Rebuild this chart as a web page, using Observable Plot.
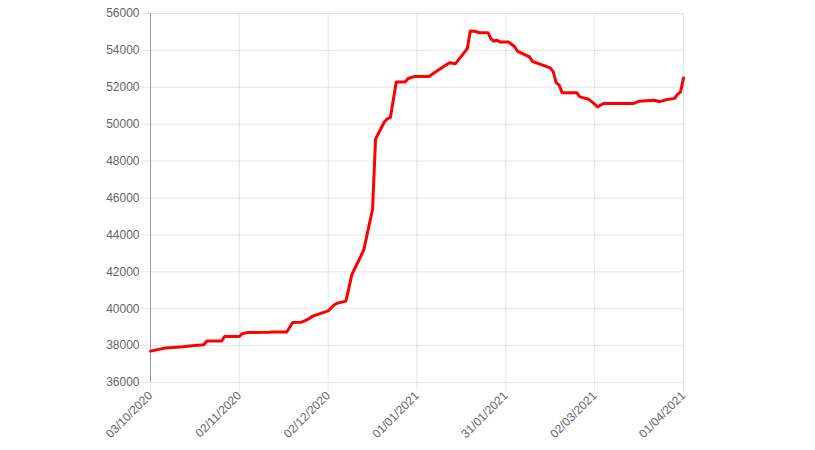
<!DOCTYPE html>
<html><head><meta charset="utf-8">
<script src="https://cdn.jsdelivr.net/npm/d3@7"></script>
<script src="https://cdn.jsdelivr.net/npm/@observablehq/plot@0.6"></script>
<style>body{margin:0;background:#fff;} svg{display:block;}</style>
</head><body><div id="chart"></div>
<script>
const dates = ["2020-10-03","2020-10-08","2020-10-14","2020-10-17","2020-10-21","2020-10-22","2020-10-27","2020-10-28",
"2020-11-02","2020-11-03","2020-11-05","2020-11-12","2020-11-13","2020-11-18","2020-11-20","2020-11-23","2020-11-25","2020-11-27",
"2020-12-02","2020-12-04","2020-12-05","2020-12-08","2020-12-10","2020-12-11","2020-12-14","2020-12-17","2020-12-18","2020-12-21",
"2020-12-22","2020-12-23","2020-12-25","2020-12-28","2020-12-29","2020-12-31","2021-01-05","2021-01-11","2021-01-12","2021-01-14",
"2021-01-18","2021-01-19","2021-01-21","2021-01-22","2021-01-25","2021-01-26","2021-01-27","2021-01-28","2021-01-29","2021-02-01",
"2021-02-03","2021-02-04","2021-02-08","2021-02-09","2021-02-12","2021-02-15","2021-02-16","2021-02-17","2021-02-18","2021-02-19",
"2021-02-24","2021-02-25","2021-02-28","2021-03-01","2021-03-03","2021-03-05","2021-03-15","2021-03-17","2021-03-22","2021-03-24",
"2021-03-26","2021-03-29","2021-03-30","2021-03-31","2021-04-01"];
const values = [37700,37870,37935,37990,38045,38250,38250,38490,
38490,38650,38710,38720,38740,38740,39250,39270,39410,39610,
39880,40200,40300,40410,41850,42180,43170,45400,49200,50130,
50300,50360,52290,52290,52480,52580,52580,53230,53330,53280,
54100,55050,55020,54950,54950,54620,54500,54550,54460,54450,
54200,53950,53650,53400,53230,53050,52850,52250,52120,51700,
51700,51480,51350,51220,50940,51120,51120,51250,51300,51220,
51320,51400,51620,51750,52500];
const xTickDates = ["2020-10-03","2020-11-02","2020-12-02","2021-01-01","2021-01-31","2021-03-02","2021-04-01"];
const yTicks = [36000,38000,40000,42000,44000,46000,48000,50000,52000,54000,56000];

const parse = d3.utcParse("%Y-%m-%d");
const data = dates.map((d, i) => ({date: parse(d), value: values[i]}));
const xTicks = xTickDates.map(parse);

const chart = Plot.plot({
  width: 815, height: 450,
  marginLeft: 150, marginRight: 132, marginTop: 13, marginBottom: 68,
  style: {fontFamily: "'Liberation Sans', Arial, sans-serif", fontSize: "12px", background: "#fff", overflow: "visible"},
  x: {type: "utc", domain: [xTicks[0], xTicks[xTicks.length - 1]]},
  y: {domain: [36000, 56000]},
  marks: [
    Plot.gridX(xTicks, {stroke: "#000", strokeOpacity: 0.1}),
    Plot.gridY(yTicks, {stroke: "#000", strokeOpacity: 0.1}),
    Plot.axisY(yTicks, {tickSize: 9, tickPadding: 2, stroke: "#e6e6e6", strokeOpacity: 1, fill: "#666", tickFormat: d => String(d), label: null}),
    Plot.axisX(xTicks, {tickSize: 9, tickPadding: 2, tickRotate: -45, stroke: "#e6e6e6", strokeOpacity: 1, fill: "#666", tickFormat: d3.utcFormat("%d/%m/%Y"), label: null}),
    Plot.ruleX([xTicks[0]], {stroke: "#999"}),
    Plot.line(data, {x: "date", y: "value", stroke: "#ff0000", strokeWidth: 3, curve: "linear"})
  ]
});
document.getElementById("chart").appendChild(chart);
</script>
</body></html>
